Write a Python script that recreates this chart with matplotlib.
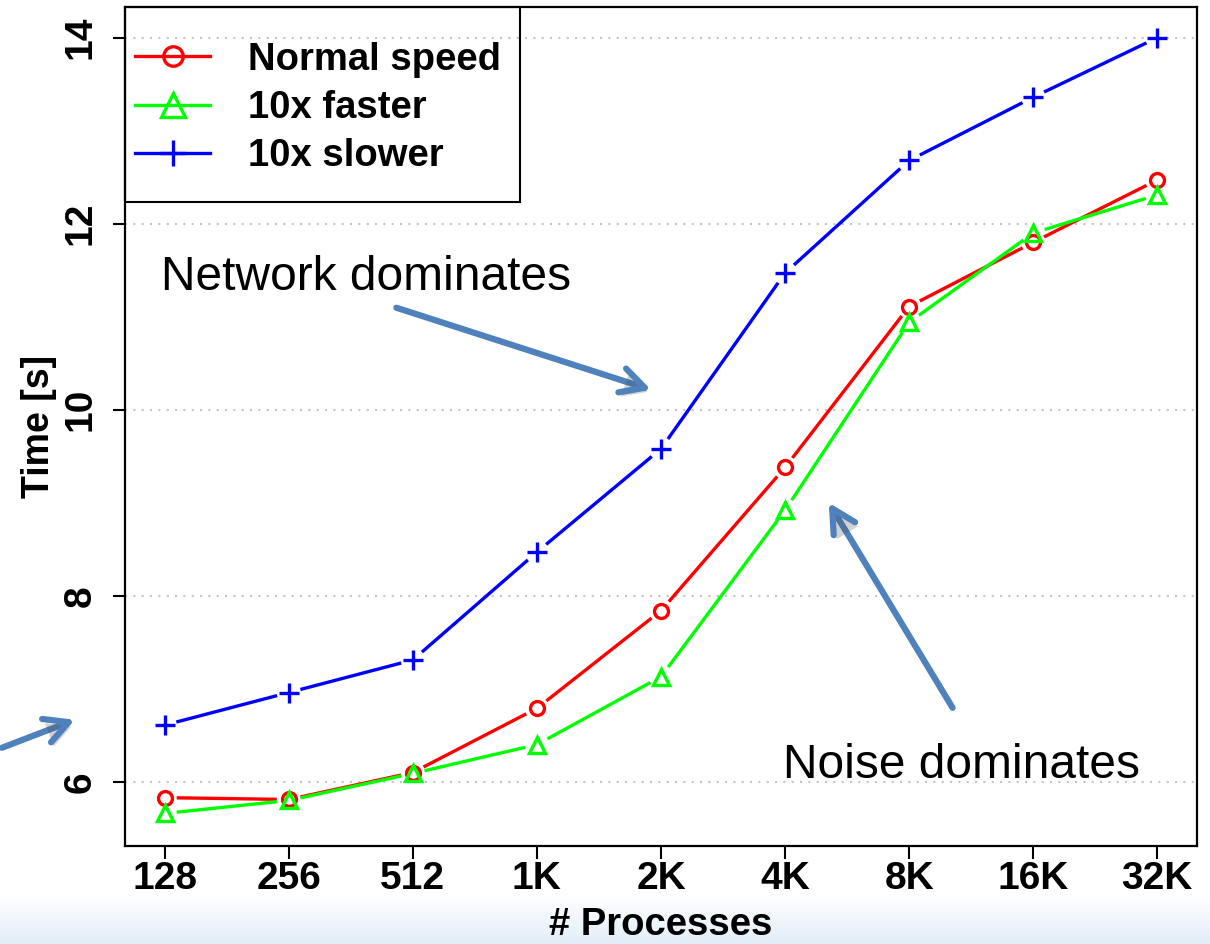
import numpy as np
import matplotlib
matplotlib.use('Agg')
import matplotlib.pyplot as plt
import matplotlib.patheffects as pe
from matplotlib.lines import Line2D
from matplotlib.patches import Rectangle

plt.rcParams['font.family'] = ['Liberation Sans', 'DejaVu Sans']

procs = ['128', '256', '512', '1K', '2K', '4K', '8K', '16K', '32K']
normal = [5.83, 5.81, 6.10, 6.79, 7.84, 9.38, 11.11, 11.80, 12.47]
faster = [5.66, 5.80, 6.09, 6.40, 7.13, 8.92, 10.94, 11.90, 12.31]
slower = [6.61, 6.96, 7.31, 8.47, 9.58, 11.47, 12.68, 13.36, 14.00]

# label, values, colour, marker, marker size on plot, marker size in legend
series = [
    ('Normal speed', normal, '#ff0000', 'o', 10, 14),
    ('10x faster', faster, '#00ff00', '^', 12, 17),
    ('10x slower', slower, '#0000ff', '+', 15, 19),
]
arrow_col = '#4f81bd'

fig = plt.figure(figsize=(12.1, 9.44), dpi=100)

# light blue fade along the bottom edge
bg = fig.add_axes([0, 0, 1, 50 / 944], zorder=-1)
grad = np.linspace(0, 1, 64)[:, None]
top = np.array([1.0, 1.0, 1.0])
bot = np.array([0.89, 0.93, 0.97])
img = top + (bot - top) * grad[..., None]
bg.imshow(img, aspect='auto', extent=[0, 1, 0, 1], origin='upper')
bg.axis('off')

ax = fig.add_axes([125 / 1210, 1 - 846 / 944, 1072 / 1210, 839 / 944])
x = np.arange(len(procs))
ax.set_xlim(-0.32, len(procs) - 1 + 0.32)
ax.set_ylim(5.31, 14.33)

ax.set_yticks([6, 8, 10, 12, 14])
ax.set_xticks(x)
ax.set_xticklabels(procs)
for yv in ax.get_yticks():
    ax.axhline(yv, color='#c4c4c4', lw=1.5, ls=(0, (1, 3)), zorder=0)


def gapped_line(xs, ys, color, gap=12):
    # type="b" style: line segments stop short of the point symbols
    pts = ax.transData.transform(np.column_stack([xs, ys]))
    inv = ax.transData.inverted()
    for p0, p1 in zip(pts[:-1], pts[1:]):
        d = p1 - p0
        n = np.hypot(*d)
        if n <= 2 * gap:
            continue
        u = d / n
        seg = inv.transform(np.array([p0 + u * gap, p1 - u * gap]))
        ax.plot(seg[:, 0], seg[:, 1], color=color, lw=2.4,
                solid_capstyle='butt', zorder=2)


handles = []
for label, vals, col, mk, ms, lms in series:
    gapped_line(x, vals, col)
    ax.plot(x, vals, ls='none', marker=mk, ms=ms, mfc='none', mec=col,
            mew=2.4, zorder=3)
    handles.append(Line2D([], [], color=col, lw=2.4, marker=mk, ms=lms,
                          mfc='none', mec=col, mew=2.4))

for s in ax.spines.values():
    s.set_linewidth(1.6)
ax.tick_params(axis='both', length=9, width=1.5, labelsize=28)
ax.tick_params(axis='x', pad=2)
ax.tick_params(axis='y', pad=10)
for t in ax.get_xticklabels() + ax.get_yticklabels():
    t.set_fontweight('bold')
for t in ax.get_yticklabels():
    t.set_rotation(90)
    t.set_va('center')

ax.set_xlabel('# Processes', fontsize=27.5, fontweight='bold', labelpad=7)
ax.set_ylabel('Time [s]', fontsize=27, fontweight='bold', labelpad=4)

# legend box in the top-left corner
ax.add_patch(Rectangle((0, 1 - 195 / 839), 395 / 1072, 195 / 839,
                       transform=ax.transAxes, fill=False, ec='black',
                       lw=1.5, zorder=4, clip_on=False))
leg = ax.legend(handles, [s[0] for s in series], loc='center left',
                bbox_to_anchor=(10 / 1072, 1 - 101 / 839), frameon=False,
                borderpad=0, borderaxespad=0, handlelength=1.97,
                handletextpad=1.0, labelspacing=0.32,
                prop={'size': 27.5, 'weight': 'bold'})

ax.text(-0.03, 11.29, 'Network dominates', fontsize=34.5, ha='left',
        va='baseline')
ax.text(4.98, 6.04, 'Noise dominates', fontsize=34.5, ha='left',
        va='baseline')

shadow = [pe.SimplePatchShadow(offset=(2, -3), alpha=0.25), pe.Normal()]
for tail, head in [((1.867, 11.097), (3.920, 10.215)),
                   ((6.350, 6.796), (5.352, 9.000)),
                   ((-1.312, 6.366), (-0.724, 6.667))]:
    ann = ax.annotate('', xy=head, xytext=tail, annotation_clip=False,
                      arrowprops=dict(arrowstyle='->, head_length=0.85, head_width=0.45',
                                      color=arrow_col, lw=4.5, shrinkA=0,
                                      shrinkB=0, mutation_scale=20,
                                      capstyle='round', joinstyle='round'))
    ann.arrow_patch.set_path_effects(shadow)
    ann.arrow_patch.set_clip_on(False)

fig.savefig('out.png', dpi=100)
